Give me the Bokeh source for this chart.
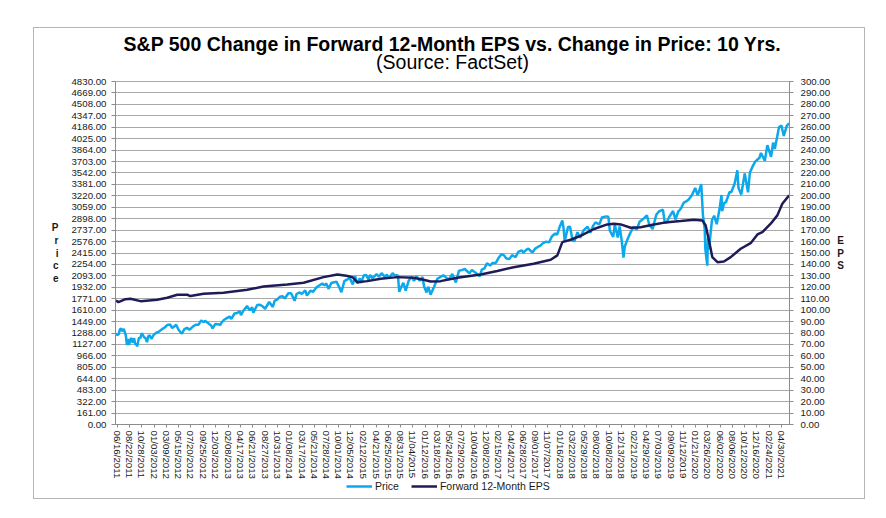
import pandas as pd
from bokeh.plotting import figure
from bokeh.layouts import column
from bokeh.models import (Range1d, LinearAxis, FixedTicker, NumeralTickFormatter,
                          DatetimeTickFormatter, Legend, LegendItem, Title, InlineStyleSheet)
from bokeh.embed import file_html
from bokeh.resources import INLINE

title_text = "S&P 500 Change in Forward 12-Month EPS vs. Change in Price: 10 Yrs."
subtitle_text = "(Source: FactSet)"
series_names = ["Price", "Forward 12-Month EPS"]

tick_labels = [
    "06/16/2011", "08/22/2011", "10/28/2011", "01/03/2012", "03/09/2012", "05/15/2012",
    "07/20/2012", "09/25/2012", "12/03/2012", "02/08/2013", "04/17/2013", "06/21/2013",
    "08/27/2013", "10/31/2013", "01/08/2014", "03/17/2014", "05/21/2014", "07/28/2014",
    "10/01/2014", "12/05/2014", "02/12/2015", "04/21/2015", "06/25/2015", "08/31/2015",
    "11/04/2015", "01/12/2016", "03/18/2016", "05/24/2016", "07/29/2016", "10/04/2016",
    "12/08/2016", "02/15/2017", "04/24/2017", "06/28/2017", "09/01/2017", "11/07/2017",
    "01/16/2018", "03/22/2018", "05/29/2018", "08/02/2018", "10/08/2018", "12/13/2018",
    "02/21/2019", "04/29/2019", "07/03/2019", "09/09/2019", "11/12/2019", "01/21/2020",
    "03/26/2020", "06/02/2020", "08/06/2020", "10/12/2020", "12/16/2020", "02/24/2021",
    "04/30/2021",
]

price_dates = [
    # 2011
    "2011-06-08", "2011-06-15", "2011-06-24", "2011-07-01", "2011-07-07", "2011-07-12",
    "2011-07-22", "2011-07-27", "2011-08-02", "2011-08-08", "2011-08-12", "2011-08-15",
    "2011-08-19", "2011-08-31", "2011-09-09", "2011-09-16", "2011-09-22", "2011-09-30",
    "2011-10-03", "2011-10-10", "2011-10-14", "2011-10-20", "2011-10-27", "2011-11-04",
    "2011-11-09", "2011-11-17", "2011-11-25", "2011-12-02", "2011-12-09", "2011-12-19",
    "2011-12-30",
    # 2012
    "2012-01-13", "2012-01-31", "2012-02-15", "2012-02-29", "2012-03-15", "2012-03-30",
    "2012-04-10", "2012-04-20", "2012-05-01", "2012-05-15", "2012-06-01", "2012-06-15",
    "2012-06-29", "2012-07-12", "2012-07-31", "2012-08-15", "2012-08-31", "2012-09-14",
    "2012-09-28", "2012-10-05", "2012-10-19", "2012-11-07", "2012-11-15", "2012-11-30",
    "2012-12-14", "2012-12-28", "2012-12-31",
    # 2013
    "2013-01-15", "2013-01-31", "2013-02-15", "2013-02-25", "2013-03-14", "2013-03-28",
    "2013-04-11", "2013-04-18", "2013-04-30", "2013-05-21", "2013-06-05", "2013-06-18",
    "2013-06-24", "2013-07-15", "2013-07-31", "2013-08-15", "2013-08-27", "2013-09-18",
    "2013-10-08", "2013-10-18", "2013-10-31", "2013-11-15", "2013-11-29", "2013-12-12",
    "2013-12-31",
    # 2014
    "2014-01-15", "2014-02-03", "2014-02-14", "2014-02-28", "2014-03-14", "2014-04-02",
    "2014-04-11", "2014-04-30", "2014-05-15", "2014-05-30", "2014-06-20", "2014-07-03",
    "2014-07-17", "2014-07-24", "2014-08-07", "2014-08-21", "2014-09-18", "2014-10-01",
    "2014-10-15", "2014-10-31", "2014-11-14", "2014-11-28", "2014-12-16", "2014-12-29",
    # 2015
    "2015-01-06", "2015-01-15", "2015-01-22", "2015-01-30", "2015-02-13", "2015-02-27",
    "2015-03-11", "2015-03-20", "2015-04-01", "2015-04-24", "2015-05-06", "2015-05-21",
    "2015-06-08", "2015-06-19", "2015-06-29", "2015-07-20", "2015-07-31", "2015-08-18",
    "2015-08-25", "2015-09-01", "2015-09-16", "2015-09-29", "2015-10-15", "2015-10-30",
    "2015-11-13", "2015-11-27", "2015-12-14", "2015-12-29",
    # 2016
    "2016-01-07", "2016-01-20", "2016-01-29", "2016-02-11", "2016-02-29", "2016-03-18",
    "2016-04-20", "2016-05-19", "2016-06-08", "2016-06-27", "2016-07-14", "2016-07-29",
    "2016-08-15", "2016-09-09", "2016-09-22", "2016-10-14", "2016-11-04", "2016-11-15",
    "2016-11-30", "2016-12-13", "2016-12-30",
    # 2017
    "2017-01-13", "2017-01-31", "2017-02-15", "2017-03-01", "2017-03-15", "2017-03-27",
    "2017-04-13", "2017-04-28", "2017-05-17", "2017-06-01", "2017-06-19", "2017-06-29",
    "2017-07-14", "2017-07-26", "2017-08-10", "2017-08-18", "2017-09-01", "2017-09-15",
    "2017-09-29", "2017-10-13", "2017-10-31", "2017-11-15", "2017-11-30", "2017-12-18",
    "2017-12-29",
    # 2018
    "2018-01-12", "2018-01-26", "2018-02-02", "2018-02-08", "2018-02-26", "2018-03-09",
    "2018-03-23", "2018-04-02", "2018-04-18", "2018-05-03", "2018-05-21", "2018-06-12",
    "2018-06-27", "2018-07-13", "2018-07-25", "2018-08-15", "2018-08-29", "2018-09-20",
    "2018-10-03", "2018-10-11", "2018-10-29", "2018-11-07", "2018-11-23", "2018-12-03",
    "2018-12-14", "2018-12-24", "2018-12-31",
    # 2019
    "2019-01-15", "2019-01-31", "2019-02-15", "2019-03-07", "2019-03-21", "2019-04-15",
    "2019-04-30", "2019-05-13", "2019-05-31", "2019-06-20", "2019-07-03", "2019-07-26",
    "2019-08-05", "2019-08-14", "2019-08-30", "2019-09-19", "2019-10-02", "2019-10-17",
    "2019-10-31", "2019-11-15", "2019-11-29", "2019-12-13", "2019-12-31",
    # 2020
    "2020-01-17", "2020-01-31", "2020-02-19", "2020-02-28", "2020-03-09", "2020-03-12",
    "2020-03-16", "2020-03-23", "2020-03-26", "2020-04-01", "2020-04-17", "2020-04-29",
    "2020-05-13", "2020-05-29", "2020-06-08", "2020-06-11", "2020-06-22", "2020-07-02",
    "2020-07-22", "2020-07-31", "2020-08-18", "2020-09-02", "2020-09-08", "2020-09-23",
    "2020-10-12", "2020-10-30", "2020-11-09", "2020-11-24", "2020-12-08", "2020-12-31",
    # 2021
    "2021-01-08", "2021-01-29", "2021-02-12", "2021-03-04", "2021-03-15", "2021-03-24",
    "2021-04-16", "2021-04-29", "2021-05-12", "2021-05-28", "2021-06-10",
]

price_values = [
    # 2011
    1280, 1265, 1268, 1340, 1353, 1314,
    1345, 1305, 1254, 1119, 1179, 1204,
    1123, 1219, 1154, 1216, 1129, 1131,
    1099, 1195, 1225, 1216, 1285, 1253,
    1229, 1216, 1159, 1244, 1255, 1205,
    1258,
    # 2012
    1289, 1312, 1343, 1366, 1403, 1408,
    1358, 1379, 1405, 1331, 1278, 1343,
    1362, 1334, 1379, 1405, 1406, 1465,
    1441, 1461, 1433, 1395, 1353, 1416,
    1413, 1402, 1426,
    # 2013
    1472, 1498, 1519, 1488, 1563, 1569,
    1593, 1541, 1598, 1669, 1608, 1652,
    1573, 1682, 1686, 1661, 1630, 1725,
    1656, 1745, 1757, 1798, 1806, 1775,
    1848,
    # 2014
    1848, 1742, 1838, 1859, 1841, 1890,
    1815, 1884, 1870, 1924, 1963, 1985,
    1958, 1988, 1910, 1992, 2011, 1946,
    1862, 2018, 2039, 2068, 1973, 2091,
    # 2015
    2003, 1993, 2063, 1995, 2097, 2105,
    2040, 2108, 2059, 2117, 2080, 2131,
    2080, 2110, 2058, 2129, 2104, 2097,
    1868, 1914, 1996, 1884, 2023, 2079,
    2023, 2090, 2022, 2078,
    # 2016
    1943, 1859, 1940, 1829, 1932, 2050,
    2102, 2040, 2119, 2001, 2164, 2174,
    2190, 2128, 2177, 2133, 2085, 2180,
    2199, 2271, 2239,
    # 2017
    2275, 2279, 2349, 2396, 2385, 2342,
    2329, 2384, 2357, 2430, 2453, 2419,
    2459, 2477, 2438, 2426, 2477, 2500,
    2519, 2553, 2575, 2565, 2648, 2690,
    2674,
    # 2018
    2786, 2873, 2762, 2581, 2780, 2786,
    2588, 2582, 2708, 2630, 2733, 2786,
    2699, 2801, 2846, 2818, 2914, 2931,
    2925, 2728, 2641, 2814, 2633, 2790,
    2600, 2351, 2507,
    # 2019
    2610, 2704, 2775, 2749, 2854, 2905,
    2946, 2812, 2752, 2954, 2996, 3026,
    2845, 2840, 2926, 3006, 2887, 2998,
    3038, 3120, 3141, 3169, 3231,
    # 2020
    3330, 3226, 3386, 2954, 2747, 2481,
    2386, 2237, 2630, 2470, 2875, 2940,
    2820, 3044, 3232, 3002, 3117, 3130,
    3276, 3271, 3390, 3580, 3332, 3237,
    3534, 3270, 3550, 3635, 3702, 3756,
    # 2021
    3824, 3714, 3934, 3768, 3969, 3881,
    4185, 4211, 4063, 4204, 4239,
]

eps_dates = [
    "2011-06-08", "2011-06-23", "2011-07-31", "2011-08-27", "2011-10-21", "2012-01-19",
    "2012-03-14", "2012-05-07", "2012-06-30", "2012-07-18", "2012-09-27", "2013-01-13",
    "2013-05-22", "2013-08-18", "2013-12-25", "2014-03-24", "2014-07-10", "2014-09-23",
    "2014-11-10", "2014-12-15", "2015-01-09", "2015-03-04", "2015-05-16", "2015-08-14",
    "2015-11-11", "2016-01-04", "2016-02-11", "2016-04-05", "2016-07-05", "2016-11-09",
    "2017-02-07", "2017-05-07", "2017-08-23", "2017-11-24", "2017-12-30", "2018-01-26",
    "2018-03-12", "2018-05-05", "2018-07-17", "2018-09-27", "2018-11-02", "2018-12-09",
    "2019-02-01", "2019-03-27", "2019-06-07", "2019-08-19", "2019-10-30", "2020-01-11",
    "2020-02-25", "2020-03-14", "2020-04-01", "2020-04-19", "2020-05-17", "2020-06-21",
    "2020-07-28", "2020-09-20", "2020-11-13", "2020-12-20", "2021-01-16", "2021-03-02",
    "2021-04-07", "2021-05-04", "2021-06-10",
]

eps_values = [
    108.5, 107.0, 109.6, 110.0, 107.9, 109.1,
    110.8, 113.5, 113.5, 112.3, 114.3, 115.2,
    117.8, 120.7, 122.5, 124.0, 128.9, 131.2,
    130.2, 128.8, 124.5, 125.4, 127.5, 128.9,
    128.3, 126.6, 125.1, 125.4, 128.3, 131.2,
    134.2, 137.6, 140.6, 144.1, 147.9, 159.5,
    161.6, 165.0, 171.0, 175.0, 175.6, 175.0,
    172.1, 172.6, 175.0, 177.0, 177.9, 179.1,
    178.5, 174.1, 161.0, 146.4, 142.0, 142.6,
    146.4, 153.7, 158.6, 166.2, 168.3, 175.6,
    182.9, 193.1, 200.4,
]

price_ticks = list(range(0, 4831, 161))
eps_ticks = list(range(0, 301, 10))

assert len(price_dates) == len(price_values)
assert len(eps_dates) == len(eps_values)

FONT = "Liberation Sans"
PRICE_COLOR = "#0BA9EC"
EPS_COLOR = "#1E1B57"
GRID = "#a9a9a9"
TXT = "#1a1a1a"

px = pd.to_datetime(price_dates)
ex = pd.to_datetime(eps_dates)
tick_ms = (pd.to_datetime(tick_labels, format="%m/%d/%Y").asi8 // 10**6).tolist()

p = figure(frame_width=674, frame_height=343, x_axis_type="datetime",
           x_range=Range1d(pd.Timestamp("2011-06-07"), pd.Timestamp("2021-06-12")),
           y_range=Range1d(0, 4830),
           output_backend="svg", toolbar_location=None,
           min_border_left=115, min_border_right=97, min_border_top=81, min_border_bottom=0)
p.background_fill_color = "white"
p.border_fill_color = "white"
p.outline_line_color = GRID

# titles: main title outermost, subtitle next to the plot area
p.title.text = title_text
p.title.align = "center"
p.title.text_font = FONT
p.title.text_font_size = "19.5px"
p.title.text_font_style = "bold"
p.title.text_color = "black"
p.title.standoff = -30
sub = Title(text=subtitle_text, align="center", text_font=FONT, text_font_size="19.5px",
            text_font_style="normal", text_color="black", standoff=18)
p.add_layout(sub, "above")

p.extra_y_ranges = {"eps": Range1d(0, 300)}

# axes
p.yaxis.ticker = FixedTicker(ticks=price_ticks)
p.yaxis.formatter = NumeralTickFormatter(format="0.00")
ax2 = LinearAxis(y_range_name="eps", ticker=FixedTicker(ticks=eps_ticks),
                 formatter=NumeralTickFormatter(format="0.00"))
p.add_layout(ax2, "right")

p.xaxis.ticker = FixedTicker(ticks=tick_ms)
fmt = "%m/%d/%Y"
p.xaxis.formatter = DatetimeTickFormatter(days=fmt, months=fmt, years=fmt, hours=fmt,
                                          minutes=fmt, seconds=fmt, milliseconds=fmt,
                                          microseconds=fmt, minsec=fmt, hourmin=fmt)
p.xaxis.major_label_orientation = "vertical"

for ax in [p.yaxis[0], ax2, p.xaxis[0]]:
    ax.axis_line_color = "#8c8c8c"
    ax.major_tick_line_color = "#8c8c8c"
    ax.minor_tick_line_color = None
    ax.major_tick_in = 0
    ax.major_label_text_font = FONT
    ax.major_label_text_font_size = "9.7px"
    ax.major_label_text_color = TXT
    ax.axis_label_text_font = FONT
    ax.axis_label_text_font_size = "10px"
    ax.axis_label_text_font_style = "bold"
    ax.axis_label_text_color = TXT
    ax.axis_label_text_line_height = 1.15

p.yaxis[0].major_tick_out = 4
p.yaxis[0].major_label_standoff = 5
p.yaxis[0].axis_label = "P\nr\ni\nc\ne"
p.yaxis[0].axis_label_orientation = "horizontal"
p.yaxis[0].axis_label_standoff = 10
p.yaxis[0].axis_label_text_align = "center"

ax2.major_tick_out = 4
ax2.major_label_standoff = 7
ax2.axis_label = "E\nP\nS"
ax2.axis_label_orientation = "horizontal"
ax2.axis_label_standoff = 4
ax2.axis_label_text_align = "center"

p.xaxis[0].major_tick_out = 3
p.xaxis[0].major_label_standoff = 3

p.xgrid.visible = False
p.ygrid.ticker = FixedTicker(ticks=price_ticks)
p.ygrid.grid_line_color = GRID

p.line(px, price_values, line_color=PRICE_COLOR, line_width=2.5)
p.line(ex, eps_values, line_color=EPS_COLOR, line_width=2.5, y_range_name="eps")

# legend strip under the chart (its own small canvas; the carriers hold no drawable data)
q = figure(width=886, height=24, output_backend="svg", toolbar_location=None,
           x_axis_location=None, y_axis_location=None, min_border=0,
           x_range=Range1d(0, 1), y_range=Range1d(0, 1))
q.grid.visible = False
q.outline_line_color = None
q.background_fill_alpha = 0
q.border_fill_alpha = 0
nan = float("nan")
k1 = q.line([nan], [nan], line_color=PRICE_COLOR, line_width=2.5)
k2 = q.line([nan], [nan], line_color=EPS_COLOR, line_width=2.5)
legend = Legend(items=[LegendItem(label=series_names[0], renderers=[k1]),
                       LegendItem(label=series_names[1], renderers=[k2])],
                orientation="horizontal", location=(231, 13))
legend.background_fill_alpha = 0
legend.border_line_alpha = 0
legend.padding = 0
legend.margin = 0
legend.spacing = 12
legend.glyph_width = 26
legend.glyph_height = 12
legend.label_height = 12
legend.label_standoff = 3
legend.label_text_font = FONT
legend.label_text_font_size = "10.5px"
legend.label_text_color = TXT
q.add_layout(legend)

layout = column(p, q, spacing=0)
# outer chart border drawn around the whole chart area
layout.stylesheets = [InlineStyleSheet(css="""
:host { position: relative; }
:host::after {
  content: ""; position: absolute; left: 33px; top: 27px;
  width: 832px; height: 472px; border: 1px solid #b5b5b5;
  pointer-events: none; box-sizing: border-box;
}
""")]

open("out.html", "w").write(file_html(layout, INLINE))
